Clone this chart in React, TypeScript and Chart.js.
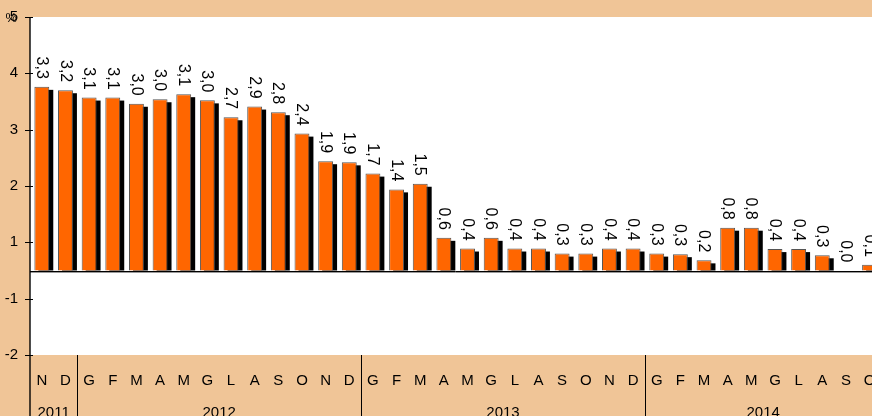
import React, { useEffect, useRef } from 'react';
import { Chart, registerables } from 'chart.js';

Chart.register(...registerables);

const months = ['N','D','G','F','M','A','M','G','L','A','S','O','N','D','G','F','M','A','M','G','L','A','S','O','N','D','G','F','M','A','M','G','L','A','S','O'];
const years = ['2011', '2012', '2013', '2014'];
const monthsPerYear = [2, 12, 12, 10];
const values = [3.26,3.2,3.07,3.07,2.96,3.04,3.13,3.02,2.72,2.91,2.81,2.43,1.94,1.92,1.72,1.44,1.54,0.58,0.39,0.58,0.39,0.39,0.3,0.3,0.39,0.39,0.3,0.29,0.18,0.76,0.76,0.38,0.38,0.27,0,0.1];
const valueLabels = ['3,3','3,2','3,1','3,1','3,0','3,0','3,1','3,0','2,7','2,9','2,8','2,4','1,9','1,9','1,7','1,4','1,5','0,6','0,4','0,6','0,4','0,4','0,3','0,3','0,4','0,4','0,3','0,3','0,2','0,8','0,8','0,4','0,4','0,3','0,0','0,1'];
const yTickValues = [-1.5, -0.5, 0.5, 1.5, 2.5, 3.5, 4.5];
const yTickLabels = ['-2', '-1', '1', '2', '3', '4', '5'];
const unitLabel = '%';

const TAN = '#F0C597';
const ORANGE = '#FF6600';
const FONT = '"Liberation Sans", Arial, sans-serif';

const decor = {
  id: 'decor',
  beforeDraw(chart: any) {
    const { ctx, chartArea: a, width, height } = chart;
    ctx.save();
    ctx.fillStyle = TAN;
    ctx.fillRect(0, 0, width, height);
    ctx.fillStyle = '#ffffff';
    ctx.fillRect(a.left, a.top, a.right - a.left, a.bottom - a.top);
    ctx.restore();
  },
  beforeDatasetsDraw(chart: any) {
    const { ctx } = chart;
    const meta = chart.getDatasetMeta(0);
    ctx.save();
    ctx.fillStyle = '#000000';
    meta.data.forEach((bar: any) => {
      const p = bar.getProps(['x', 'y', 'base', 'width'], true);
      const top = p.y + 3;
      if (p.base - top > 0) ctx.fillRect(p.x - p.width / 2 + 4, top, p.width, p.base - top);
    });
    ctx.restore();
  },
  afterDraw(chart: any) {
    const { ctx, chartArea: a, height, scales } = chart;
    const xs = scales.x;
    const ys = scales.y;
    ctx.save();
    // zero line
    const y0 = Math.round(ys.getPixelForValue(0)) + 0.5;
    ctx.strokeStyle = '#000';
    ctx.lineWidth = 1;
    ctx.beginPath();
    ctx.moveTo(a.left, y0);
    ctx.lineTo(a.right, y0);
    ctx.stroke();
    ctx.strokeStyle = '#9a9a9a';
    ctx.beginPath();
    ctx.moveTo(a.left, y0 + 1);
    ctx.lineTo(a.right, y0 + 1);
    ctx.stroke();
    ctx.strokeStyle = '#000';
    // y axis line
    ctx.lineWidth = 1.4;
    ctx.beginPath();
    ctx.moveTo(a.left, a.top);
    ctx.lineTo(a.left, height);
    ctx.stroke();
    // ticks
    ctx.lineWidth = 1;
    yTickValues.forEach((v) => {
      const py = Math.round(ys.getPixelForValue(v)) + 0.5;
      ctx.beginPath();
      ctx.moveTo(a.left - 5, py);
      ctx.lineTo(a.left + 3, py);
      ctx.stroke();
    });
    // unit label
    ctx.fillStyle = '#000';
    ctx.font = `13px ${FONT}`;
    ctx.textAlign = 'right';
    ctx.textBaseline = 'middle';
    ctx.fillText(unitLabel, 17, a.top + 1);
    // value labels
    const meta = chart.getDatasetMeta(0);
    ctx.font = `16px ${FONT}`;
    meta.data.forEach((bar: any, i: number) => {
      const p = bar.getProps(['x', 'y'], true);
      ctx.save();
      ctx.translate(p.x - 0.5, p.y - 8);
      ctx.rotate(Math.PI / 2);
      ctx.textAlign = 'right';
      ctx.textBaseline = 'middle';
      ctx.fillText(valueLabels[i], 0, 0);
      ctx.restore();
    });
    // month labels
    ctx.font = `15px ${FONT}`;
    ctx.textAlign = 'center';
    ctx.textBaseline = 'alphabetic';
    months.forEach((m, i) => {
      ctx.fillText(m, xs.getPixelForValue(i), 384.5);
    });
    // year labels and separators
    let start = 0;
    const step = (a.right - a.left) / months.length;
    years.forEach((yr, k) => {
      const n = monthsPerYear[k];
      const left = a.left + start * step;
      const right = a.left + (start + n) * step;
      ctx.fillText(yr, (left + right) / 2, 416.5);
      if (k > 0) {
        ctx.beginPath();
        ctx.moveTo(Math.round(left) + 0.5, a.bottom);
        ctx.lineTo(Math.round(left) + 0.5, height);
        ctx.stroke();
      }
      start += n;
    });
    ctx.restore();
  },
};

export default function App() {
  const ref = useRef<HTMLCanvasElement | null>(null);
  useEffect(() => {
    if (!ref.current) return;
    const chart = new Chart(ref.current, {
      type: 'bar',
      data: {
        labels: months,
        datasets: [
          {
            data: values,
            backgroundColor: ORANGE,
            borderColor: '#555555',
            borderWidth: 1,
            barPercentage: 0.63,
            categoryPercentage: 1,
          },
        ],
      },
      options: {
        responsive: false,
        animation: false,
        devicePixelRatio: 1,
        layout: { padding: { top: 17, bottom: 61, left: 0, right: 8.6 }, autoPadding: false },
        plugins: { legend: { display: false }, tooltip: { enabled: false } },
        scales: {
          x: { display: false },
          y: {
            min: -1.5,
            max: 4.5,
            afterBuildTicks: (s: any) => {
              s.ticks = yTickValues.map((v) => ({ value: v }));
            },
            afterFit: (s: any) => {
              s.width = 30;
              s.paddingTop = 0;
              s.paddingBottom = 0;
            },
            ticks: {
              callback: (v: any) => yTickLabels[yTickValues.indexOf(Number(v))],
              color: '#000',
              font: { family: FONT, size: 15 },
              padding: 12,
            },
            grid: { display: false, drawTicks: false },
            border: { display: false },
          },
        },
      },
      plugins: [decor],
    } as any);
    return () => chart.destroy();
  }, []);
  return (
    <div style={{ position: 'fixed', left: 0, top: 0, width: 872, height: 416, overflow: 'hidden', background: TAN }}>
      <canvas ref={ref} width={890} height={416} style={{ display: 'block' }} />
    </div>
  );
}
